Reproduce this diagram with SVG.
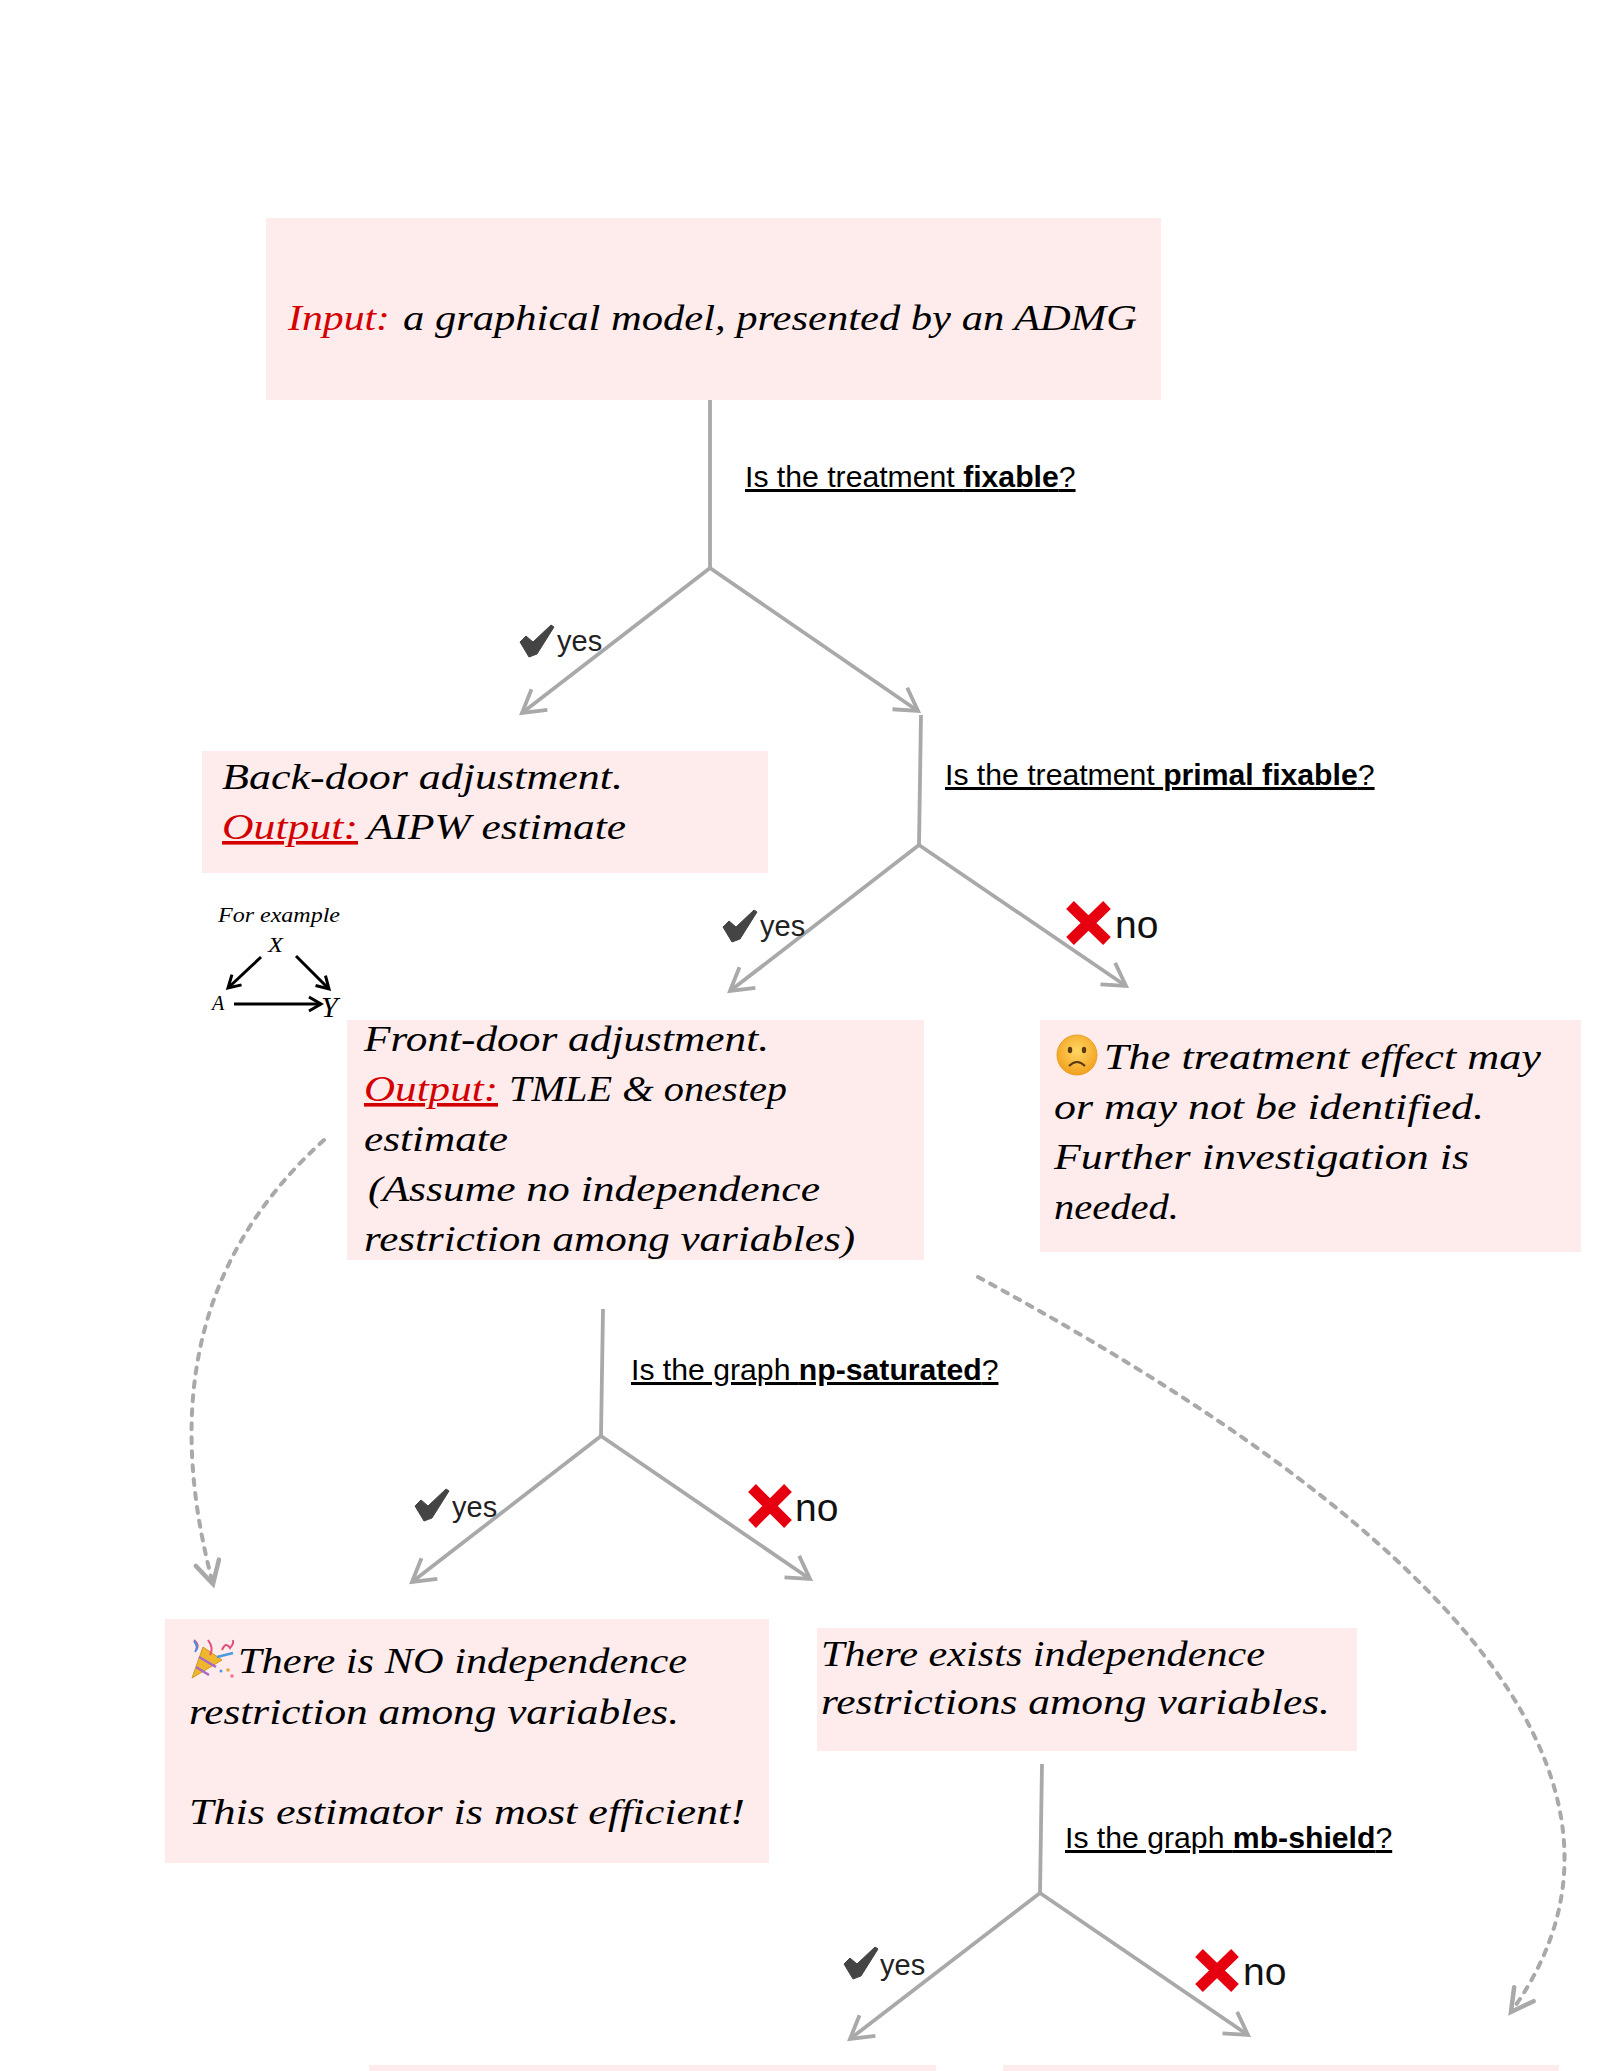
<svg xmlns="http://www.w3.org/2000/svg" width="1600" height="2071" viewBox="0 0 1600 2071">
<style>
.box{fill:#feecec}
.h{font-family:"Liberation Serif",serif;font-style:italic;font-size:36px;fill:#000}
.r{fill:#d40000}
.u{font-family:"Liberation Serif",serif;font-style:italic;font-size:36px;fill:#d40000;text-decoration:underline}
.q{font-family:"Liberation Sans",Arial,sans-serif;font-size:30.2px;fill:#000;text-decoration:underline}
.q tspan{font-weight:bold}
.y{font-family:"Liberation Sans",Arial,sans-serif;font-size:29px;fill:#222}
.n{font-family:"Liberation Sans",Arial,sans-serif;font-size:39px;fill:#111}
.s{fill:none;stroke:#a9a9a9;stroke-width:3.8}
.a{marker-end:url(#ah)}
.d{fill:none;stroke:#a9a9a9;stroke-width:4;stroke-dasharray:6 8;stroke-linecap:round;marker-end:url(#ah2)}
.x{fill:none;stroke:#e6000f;stroke-width:11}
.e{fill:none;stroke:#000;stroke-width:3;marker-end:url(#eh)}
.small{font-family:"Liberation Serif",serif;font-style:italic;fill:#000}
</style>
<defs>
<marker id="ah" markerUnits="userSpaceOnUse" markerWidth="40" markerHeight="40" refX="30" refY="20" orient="auto"><path d="M8,7 L30,20 L8,33" fill="none" stroke="#a9a9a9" stroke-width="3.8"/></marker>
<marker id="ah2" markerUnits="userSpaceOnUse" markerWidth="40" markerHeight="40" refX="30" refY="20" orient="auto"><path d="M8,8 L30,20 L8,32" fill="none" stroke="#a9a9a9" stroke-width="4.5" stroke-linecap="round"/></marker>
<marker id="eh" markerUnits="userSpaceOnUse" markerWidth="24" markerHeight="24" refX="18" refY="12" orient="auto"><path d="M6,5 L18,12 L6,19" fill="none" stroke="#000" stroke-width="3"/></marker>
<radialGradient id="fg" cx="50%" cy="40%" r="60%"><stop offset="0" stop-color="#ffd764"/><stop offset="1" stop-color="#f2a01e"/></radialGradient>
<path id="chk" d="M520,642 L526,636 L533,642 L551,625 L554,627 L537,654 L529,657 Z" fill="#444" stroke="#444" stroke-width="1" stroke-linejoin="round"/>
</defs>
<g id="nodes-bg">
<rect class="box" x="266" y="218" width="895" height="182"/>
<rect class="box" x="202" y="751" width="566" height="122"/>
<rect class="box" x="347" y="1020" width="577" height="240"/>
<rect class="box" x="1040" y="1020" width="541" height="232"/>
<rect class="box" x="165" y="1619" width="604" height="244"/>
<rect class="box" x="817" y="1628" width="540" height="123"/>
<rect class="box" x="369" y="2065" width="567" height="6"/>
<rect class="box" x="1003" y="2065" width="556" height="6"/>
</g>
<g id="connectors">
<path class="s" d="M710,400 L710,568"/>
<path class="s a" d="M710,568 L522,713"/>
<path class="s a" d="M710,568 L918,711"/>
<path class="s" d="M921,715 L919,845"/>
<path class="s a" d="M919,845 L730,991"/>
<path class="s a" d="M919,845 L1126,986"/>
<path class="s" d="M603,1309 L601,1436"/>
<path class="s a" d="M601,1436 L412,1582"/>
<path class="s a" d="M601,1436 L810,1579"/>
<path class="s" d="M1042,1764 L1040,1893"/>
<path class="s a" d="M1040,1893 L850,2039"/>
<path class="s a" d="M1040,1893 L1248,2035"/>
<path class="d" d="M324,1140 C180,1270 172,1430 213,1584"/>
<path class="d" d="M978,1277 C1260,1430 1722,1720 1511,2012"/>
</g>
<g id="input"><text class="h" y="330"><tspan class="r" x="288" textLength="102" lengthAdjust="spacingAndGlyphs">Input:</tspan></text><text class="h" x="403" y="330" textLength="734" lengthAdjust="spacingAndGlyphs">a graphical model, presented by an ADMG</text></g>
<g id="q1"><text class="q" x="745" y="487">Is the treatment <tspan>fixable</tspan>?</text></g>
<g id="yes1"><use href="#chk"/><text class="y" x="557" y="651">yes</text></g>
<g id="backdoor"><text class="h" x="222" y="789" textLength="401" lengthAdjust="spacingAndGlyphs">Back-door adjustment.</text><text class="u" x="222" y="839" textLength="136" lengthAdjust="spacingAndGlyphs">Output:</text><text class="h" x="367" y="839" textLength="259" lengthAdjust="spacingAndGlyphs">AIPW estimate</text></g>
<g id="example"><text class="small" x="218" y="922" font-size="21" textLength="122" lengthAdjust="spacingAndGlyphs">For example</text><text class="small" x="268" y="952" font-size="20" textLength="15" lengthAdjust="spacingAndGlyphs">X</text><text class="small" x="212" y="1010" font-size="20">A</text><text class="small" x="321" y="1017" font-size="30">Y</text><path class="e" d="M261,957 L228,988"/><path class="e" d="M296,956 L329,989"/><path class="e" d="M234,1004 L321,1004"/></g>
<g id="q2"><text class="q" x="945" y="785">Is the treatment <tspan>primal fixable</tspan>?</text></g>
<g id="yes2"><use href="#chk" x="203" y="285"/><text class="y" x="760" y="936">yes</text></g>
<g id="no2"><path class="x" d="M1070,905 L1107,941 M1107,905 L1070,941"/><text class="n" x="1115" y="938">no</text></g>
<g id="frontdoor"><text class="h" x="364" y="1051" textLength="405" lengthAdjust="spacingAndGlyphs">Front-door adjustment.</text><text class="u" x="364" y="1101" textLength="134" lengthAdjust="spacingAndGlyphs">Output:</text><text class="h" x="509" y="1101" textLength="278" lengthAdjust="spacingAndGlyphs">TMLE &amp; onestep</text><text class="h" x="364" y="1151" textLength="144" lengthAdjust="spacingAndGlyphs">estimate</text><text class="h" x="368" y="1201" textLength="452" lengthAdjust="spacingAndGlyphs">(Assume no independence</text><text class="h" x="364" y="1251" textLength="491" lengthAdjust="spacingAndGlyphs">restriction among variables)</text></g>
<g id="unknown"><circle cx="1077" cy="1055" r="20" fill="url(#fg)" stroke="#e8a020" stroke-width="1"/><ellipse cx="1070" cy="1050" rx="2.2" ry="3.2" fill="#5a3a10"/><ellipse cx="1084" cy="1050" rx="2.2" ry="3.2" fill="#5a3a10"/><path d="M1069,1066 Q1077,1058 1085,1066" fill="none" stroke="#5a3a10" stroke-width="2"/><text class="h" x="1104" y="1069" textLength="437" lengthAdjust="spacingAndGlyphs">The treatment effect may</text><text class="h" x="1054" y="1119" textLength="430" lengthAdjust="spacingAndGlyphs">or may not be identified.</text><text class="h" x="1054" y="1169" textLength="415" lengthAdjust="spacingAndGlyphs">Further investigation is</text><text class="h" x="1054" y="1219" textLength="125" lengthAdjust="spacingAndGlyphs">needed.</text></g>
<g id="q3"><text class="q" x="631" y="1380">Is the graph <tspan>np-saturated</tspan>?</text></g>
<g id="yes3"><use href="#chk" x="-105" y="864"/><text class="y" x="452" y="1517">yes</text></g>
<g id="no3"><path class="x" d="M752,1488 L788,1524 M788,1488 L752,1524"/><text class="n" x="795" y="1521">no</text></g>
<g id="noindep"><path d="M192,1678 L203,1647 L222,1660 Z" fill="#efb72e" stroke="#d09a1a" stroke-width="1"/><path d="M196,1667 L209,1675 M199,1657 L216,1667" stroke="#a868c8" stroke-width="2.5" fill="none"/><path d="M208,1640 Q214,1648 210,1655 M194,1640 Q200,1645 196,1650 M222,1650 Q226,1641 230,1648 Q234,1644 233,1640" fill="none" stroke="#e0507c" stroke-width="2"/><path d="M194,1641 Q199,1647 195,1652" fill="none" stroke="#4a8ae0" stroke-width="2"/><path d="M217,1657 L233,1653" stroke="#4a9ae0" stroke-width="2.5"/><circle cx="228" cy="1670" r="1.8" fill="#f0a040"/><circle cx="232" cy="1676" r="1.8" fill="#f07090"/><circle cx="221" cy="1671" r="1.5" fill="#4a9ae0"/><text class="h" x="238" y="1673" textLength="449" lengthAdjust="spacingAndGlyphs">There is NO independence</text><text class="h" x="189" y="1724" textLength="490" lengthAdjust="spacingAndGlyphs">restriction among variables.</text><text class="h" x="189" y="1824" textLength="556" lengthAdjust="spacingAndGlyphs">This estimator is most efficient!</text></g>
<g id="exists"><text class="h" x="821" y="1666" textLength="444" lengthAdjust="spacingAndGlyphs">There exists independence</text><text class="h" x="821" y="1714" textLength="509" lengthAdjust="spacingAndGlyphs">restrictions among variables.</text></g>
<g id="q4"><text class="q" x="1065" y="1848">Is the graph <tspan>mb-shield</tspan>?</text></g>
<g id="yes4"><use href="#chk" x="324" y="1322"/><text class="y" x="880" y="1975">yes</text></g>
<g id="no4"><path class="x" d="M1199,1953 L1235,1988 M1235,1953 L1199,1988"/><text class="n" x="1243" y="1985">no</text></g>
</svg>
